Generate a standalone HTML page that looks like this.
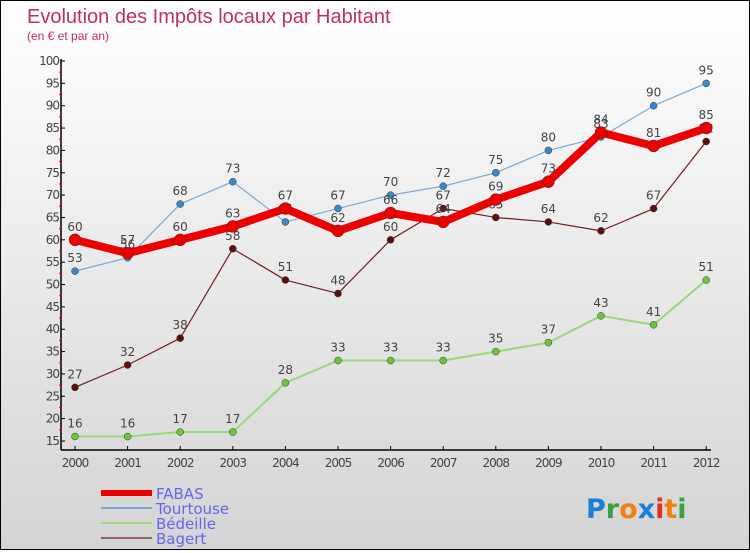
<!DOCTYPE html>
<html><head><meta charset="utf-8"><style>
body{margin:0}
#c{width:748px;height:548px;border:1px solid #000;background:linear-gradient(#fff,#d4d4d4);position:relative;font-family:"DejaVu Sans","Liberation Sans",sans-serif}
text{font-family:"DejaVu Sans","Liberation Sans",sans-serif}
</style></head><body>
<div id="c">
<svg id="s" width="748" height="548">
<text x="26" y="22" font-size="20" fill="#c0305a" style="font-family:'Liberation Sans',sans-serif">Evolution des Impôts locaux par Habitant</text>
<text x="26" y="39" font-size="12" fill="#c0305a" style="font-family:'Liberation Sans',sans-serif">(en € et par an)</text>
<g id="axes"></g><g id="series"></g><g id="legend"></g>
<text x="585" y="517" font-size="27" font-weight="bold"><tspan fill="#1a7fd6">P</tspan><tspan fill="#3aa040">r</tspan><tspan fill="#f08010">o</tspan><tspan fill="#1a7fd6">x</tspan><tspan fill="#e03020">i</tspan><tspan fill="#f08010">t</tspan><tspan fill="#3aa040">i</tspan></text>
</svg></div>
<script>
const years=[2000,2001,2002,2003,2004,2005,2006,2007,2008,2009,2010,2011,2012];
const fabas=[60,57,60,63,67,62,66,64,69,73,84,81,85];
const tourtouse=[53,56,68,73,64,67,70,72,75,80,83,90,95];
const bedeille=[16,16,17,17,28,33,33,33,35,37,43,41,51];
const bagert=[27,32,38,58,51,48,60,67,65,64,62,67,82];
const yTicks=[15,20,25,30,35,40,45,50,55,60,65,70,75,80,85,90,95,100];
const NS='http://www.w3.org/2000/svg';
const X=i=>74+i*52.6, Y=v=>440-(v-15)*(380/85);
function mk(t,a,p){const e=document.createElementNS(NS,t);for(const k in a)e.setAttribute(k,a[k]);p.appendChild(e);return e;}
const ax=document.getElementById('axes');
let e=mk('line',{x1:60,y1:58,x2:60,y2:449,stroke:'#000','stroke-width':1.5},ax);

e=mk('line',{x1:60,y1:449,x2:710,y2:449,stroke:'#000','stroke-width':1.5},ax);

yTicks.forEach(v=>{mk('line',{x1:60,y1:Y(v),x2:64,y2:Y(v),stroke:'#000'},ax);
 if(v<100)mk('line',{x1:58,y1:Y(v+2.5),x2:61,y2:Y(v+2.5),stroke:'#e00'},ax);
 const t=mk('text',{x:58,y:Y(v)+4,'font-size':12,fill:'#444','text-anchor':'end','letter-spacing':'-1'},ax);t.textContent=v;
 });
years.forEach((y,i)=>{mk('line',{x1:X(i),y1:445,x2:X(i),y2:449,stroke:'#000'},ax);
 const t=mk('text',{x:X(i),y:466,'font-size':12,fill:'#444','text-anchor':'middle','letter-spacing':'-1'},ax);t.textContent=y;
 });
const sg=document.getElementById('series');
const S=[[bagert,'#702020','#5a1010',1.2,3.5,'bagert'],[bedeille,'#9ad878','#6cc83a',2,3.5,'bedeille'],[tourtouse,'#7aaad8','#3a88cc',1.2,3.5,'tourtouse'],[fabas,'#ee0000','#ee0000',8,6,'fabas']];
S.forEach(([d,lc,pc,w,r,n])=>{
 const p=mk('polyline',{points:d.map((v,i)=>X(i)+','+Y(v)).join(' '),fill:'none',stroke:lc,'stroke-width':w,'stroke-linejoin':'round'},sg);
 
 d.forEach((v,i)=>{const c=mk('circle',{cx:X(i),cy:Y(v),r:r,fill:pc,stroke:'#333','stroke-width':0.5},sg);
  
  const t=mk('text',{x:X(i),y:Y(v)-9,'font-size':12,fill:'#444','text-anchor':'middle'},sg);t.textContent=v;
  });
});
const lg=document.getElementById('legend');
[['FABAS','#ee0000',6],['Tourtouse','#7aaad8',2],['Bédeille','#9ad878',2],['Bagert','#906060',2]].forEach(([n,c,w],i)=>{
 const y=492+i*15;
 const l=mk('line',{x1:100,y1:y,x2:151,y2:y,stroke:c,'stroke-width':w},lg);
 
 const t=mk('text',{x:155,y:y+6,'font-size':15,fill:'#6666ee'},lg);t.textContent=n;
 });
</script></body></html>
